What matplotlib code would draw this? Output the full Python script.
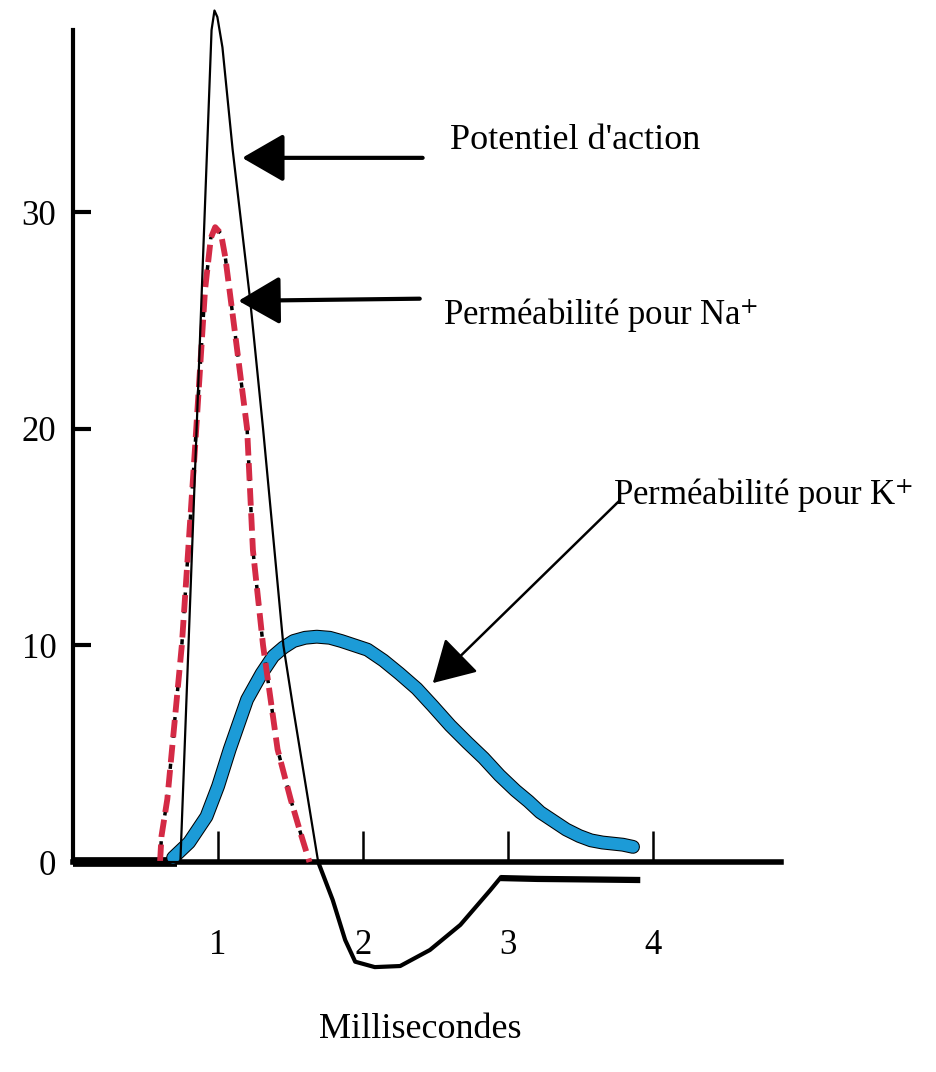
import matplotlib
matplotlib.use('Agg')
import matplotlib.pyplot as plt

plt.rcParams['font.family'] = ['Liberation Serif', 'DejaVu Serif']
plt.rcParams['mathtext.fontset'] = 'stix'

# potentiel d'action (trait noir fin)
ap_t = [0, 0.74, 0.955, 0.975, 0.995, 1.03, 1.10, 1.22, 1.31, 1.45, 1.52, 1.69, 1.79, 1.876, 1.945,
        2.08, 2.255, 2.46, 2.67, 2.876, 2.945, 3.2, 3.5, 3.91]
ap_v = [0, 0, 38.4, 39.3, 39.0, 37.6, 32.9, 26, 20, 10, 7, 0, -1.75, -3.6, -4.6,
        -4.85, -4.8, -4.06, -2.9, -1.3, -0.74, -0.78, -0.8, -0.83]

# permeabilite Na+ (tirets rouges)
na_t = [0.6, 0.61, 0.65, 0.75, 0.84, 0.91, 0.95, 0.98, 1.02, 1.05, 1.117, 1.2, 1.24, 1.31, 1.41, 1.50, 1.57, 1.63]
na_v = [0, 1.2, 2.9, 10, 19, 26.4, 28.8, 29.3, 29.0, 27.9, 24.4, 20, 14.4, 10, 5.2, 2.9, 1.3, 0]

# permeabilite K+ (trait bleu epais)
k_t = [0.69, 0.8, 0.92, 1.0, 1.08, 1.2, 1.3, 1.38, 1.45, 1.52, 1.6, 1.68, 1.77, 1.85, 1.94, 2.03,
       2.14, 2.25, 2.37, 2.48, 2.6, 2.72, 2.83, 2.94, 3.05, 3.14, 3.22, 3.31, 3.4, 3.49, 3.57, 3.65, 3.72, 3.79, 3.86]
k_v = [0.2, 0.9, 2.1, 3.5, 5.2, 7.5, 8.7, 9.5, 9.9, 10.2, 10.35, 10.4, 10.35, 10.2, 10.0, 9.8,
       9.3, 8.7, 8.0, 7.2, 6.3, 5.5, 4.8, 4.0, 3.3, 2.8, 2.3, 1.9, 1.5, 1.2, 1.0, 0.9, 0.85, 0.8, 0.7]

x_ticks = [1, 2, 3, 4]
y_ticks = [0, 10, 20, 30]

fig = plt.figure(figsize=(9.36, 10.72), dpi=100)
ax = fig.add_axes([0.078, 0.0746, 0.7564, 0.8974])
ax.set_xlim(0, 4.88)
ax.set_ylim(-6, 38.4)

ax.spines['top'].set_visible(False)
ax.spines['right'].set_visible(False)
ax.spines['bottom'].set_position(('data', 0))
ax.spines['bottom'].set_linewidth(4)
ax.spines['left'].set_linewidth(3)
ax.spines['left'].set_bounds(0, 38.4)

ax.set_xticks(x_ticks)
ax.set_yticks(y_ticks)
ax.tick_params(axis='x', direction='in', length=22, width=1.8, pad=48, labelsize=25)
ax.tick_params(axis='y', direction='in', length=13, width=3, pad=12, labelsize=25)
ax.set_xlabel('Millisecondes', fontsize=26)
ax.xaxis.set_label_coords(0.49, -0.022)

# ligne de base epaisse
ax.plot([0, 0.72], [0, 0], color='k', lw=7, solid_capstyle='butt', zorder=3)

ax.plot(k_t, k_v, color='k', lw=10, solid_capstyle='round', zorder=3)
ax.plot(k_t, k_v, color='#1c9bd7', lw=8.5, solid_capstyle='round', zorder=4)

ax.plot(na_t, na_v, color='k', lw=2.5, ls=(0, (1.5, 3)), zorder=5)
ax.plot(na_t, na_v, color='#d42a45', lw=4.2, ls=(0, (3, 1.3)), zorder=6)

ax.plot(ap_t[:21], ap_v[:21], color='k', lw=1.6, zorder=7, clip_on=False)
ax.plot(ap_t[11:21], ap_v[11:21], color='k', lw=3, zorder=7)
ax.plot(ap_t[20:], ap_v[20:], color='k', lw=4.5, solid_capstyle='butt', zorder=7)

arrow = dict(arrowstyle='-|>,head_length=1.3,head_width=0.75', color='k',
             lw=3, shrinkA=0, shrinkB=0, mutation_scale=20)
ax.annotate('', xy=(1.166, 32.5), xytext=(2.41, 32.5), arrowprops=arrow, zorder=8)
ax.annotate('', xy=(1.14, 25.9), xytext=(2.39, 26.0), arrowprops=arrow, zorder=8)
arrow_k = dict(arrow, lw=1.8)
ax.annotate('', xy=(2.48, 8.26), xytext=(3.77, 16.7), arrowprops=arrow_k, zorder=8)

ax.text(2.6, 32.9, "Potentiel d'action", fontsize=26, va='baseline', ha='left')
ax.text(2.55, 24.8, 'Perméabilité pour Na$^{+}$', fontsize=25, va='baseline', ha='left')
ax.text(3.72, 16.5, 'Perméabilité pour K$^{+}$', fontsize=25, va='baseline', ha='left')

fig.savefig('out.png', dpi=100)
